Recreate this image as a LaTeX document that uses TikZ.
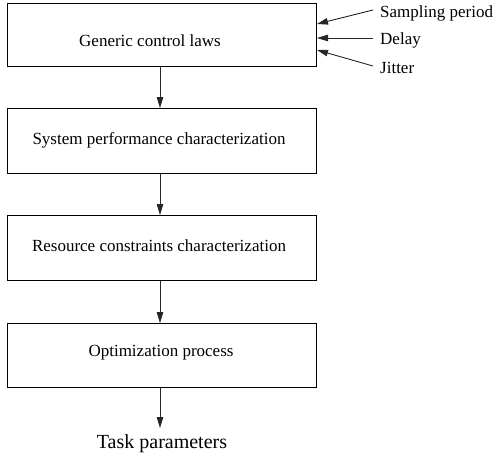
\documentclass[tikz,border=0pt]{standalone}
\usepackage{fontspec}
\setmainfont{Liberation Serif}
\usetikzlibrary{arrows.meta}
\begin{document}
\begin{tikzpicture}[x=1pt,y=-1pt,
  procbox/.style={draw=black, line width=0.9pt, minimum width=309pt, inner sep=0pt, anchor=north west},
  boxtext/.style={font=\fontsize{17}{20}\selectfont, inner sep=0pt},
  sidetext/.style={font=\fontsize{17}{20}\selectfont, inner sep=0pt, anchor=west},
  flow/.style={draw=black!85, line width=0.9pt, -{Triangle[length=11pt,width=6.5pt]}}]
\useasboundingbox (0,0) rectangle (493,459);
\node[procbox, minimum height=63pt] (b1) at (7,3) {};
\node[procbox, minimum height=65pt] (b2) at (7,108) {};
\node[procbox, minimum height=65pt] (b3) at (7,215) {};
\node[procbox, minimum height=64pt] (b4) at (7,323) {};
\node[boxtext] (t1) at (150,41) {Generic control laws};
\node[boxtext] (t2) at (159,140) {System performance characterization};
\node[boxtext] (t3) at (159,246) {Resource constraints characterization};
\node[boxtext] (t4) at (161,353) {Optimization process};
\node[font=\fontsize{20}{24}\selectfont, inner sep=0pt] (out) at (162,444) {Task parameters};
\node[sidetext] (sp) at (380,13) {Sampling period};
\node[sidetext] (dl) at (380,40) {Delay};
\node[sidetext] (jt) at (380,68) {Jitter};
\coordinate (sps) at (373,10);
\coordinate (spe) at (317,24);
\coordinate (dls) at (373,38);
\coordinate (dle) at (317,38);
\coordinate (jts) at (373,66);
\coordinate (jte) at (317,50);
\coordinate (outtip) at (160,428);
\draw[flow] (sps) -- (spe);
\draw[flow] (dls) -- (dle);
\draw[flow] (jts) -- (jte);
\draw[flow] (b1.south -| 160,0) -- (b2.north -| 160,0);
\draw[flow] (b2.south -| 160,0) -- (b3.north -| 160,0);
\draw[flow] (b3.south -| 160,0) -- (b4.north -| 160,0);
\draw[flow] (b4.south -| 160,0) -- (outtip);
\end{tikzpicture}
\end{document}
